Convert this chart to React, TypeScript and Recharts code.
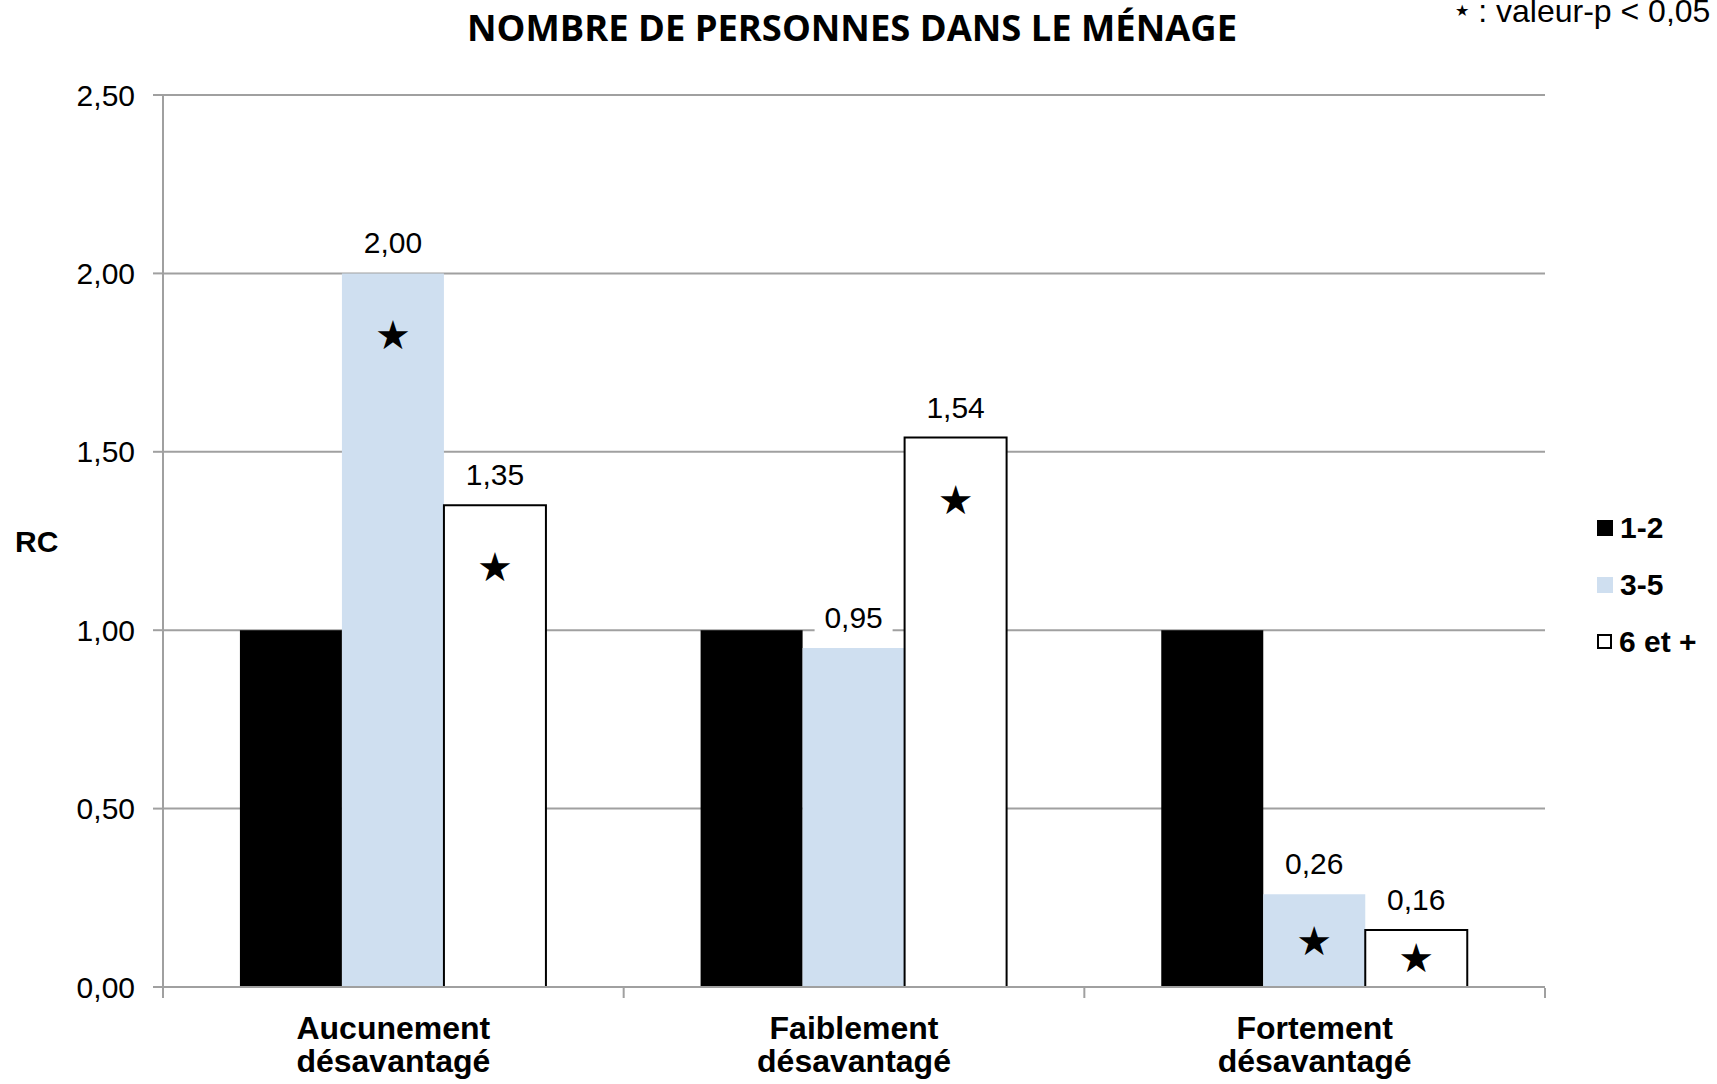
import { BarChart, Bar, XAxis, YAxis, CartesianGrid, Legend, LabelList } from 'recharts'

const categories = ['Aucunement désavantagé', 'Faiblement désavantagé', 'Fortement désavantagé']
const seriesNames = ['1-2', '3-5', '6 et +']
const values12 = [1.0, 1.0, 1.0]
const values35 = [2.0, 0.95, 0.26]
const values6plus = [1.35, 1.54, 0.16]
// étoile = valeur-p < 0,05
const sig35 = [1, 0, 1]
const sig6plus = [1, 1, 1]
const yTicks = [0, 0.5, 1, 1.5, 2, 2.5]
const edgeTicks = [0, 1, 2, 3]

const data = categories.map((name, i) => ({
  name,
  idx: i + 0.5,
  a: values12[i],
  b: values35[i],
  c: values6plus[i],
  sb: sig35[i],
  sc: sig6plus[i],
}))

const FONT = '"Liberation Sans", Arial, sans-serif'
const GRID = '#A0A0A0'
const BLUE = '#CFDFF0'

const fmt = (v: number) => v.toFixed(2).replace('.', ',')

function ValueLabel(props: any) {
  const vb = props.viewBox ?? props
  const cx = vb.x + vb.width / 2
  const top = vb.y
  const w = 78
  return (
    <g>
      <rect x={cx - w / 2} y={top - 50} width={w} height={40} fill="#fff" />
      <text x={cx} y={top - 20} textAnchor="middle" fontSize={30} fontFamily={FONT} fill="#000">
        {fmt(Number(props.value))}
      </text>
    </g>
  )
}

function StarMark(props: any) {
  if (!Number(props.value)) return null
  const vb = props.viewBox ?? props
  const cy = vb.y + Math.min(62, vb.height / 2)
  return (
    <text
      x={vb.x + vb.width / 2}
      y={cy}
      textAnchor="middle"
      dominantBaseline="central"
      fontSize={40}
      fontFamily='"DejaVu Sans", sans-serif'
      fill="#000"
    >
      ★
    </text>
  )
}

function CategoryTick({ x, y, payload }: any) {
  const words = String(payload.value).split(' ')
  return (
    <text x={x} y={y} textAnchor="middle" fontSize={32} fontWeight="bold" fontFamily={FONT} fill="#000">
      {words.map((w, i) => (
        <tspan key={i} x={x} dy={i === 0 ? 52 : 33}>
          {w}
        </tspan>
      ))}
    </text>
  )
}

function LegendBox({ payload }: any) {
  return (
    <div style={{ fontFamily: FONT, fontWeight: 'bold', fontSize: 30 }}>
      {(payload ?? []).map((entry: any, i: number) => {
        const stroke = entry.payload?.stroke
        const bordered = stroke && stroke !== 'none'
        return (
          <div key={i} style={{ display: 'flex', alignItems: 'center', height: 57 }}>
            <span
              style={{
                display: 'inline-block',
                boxSizing: 'border-box',
                width: bordered ? 15 : 16,
                height: bordered ? 15 : 16,
                background: entry.payload?.fill ?? entry.color,
                border: bordered ? `2px solid ${stroke}` : 'none',
                marginRight: 7,
              }}
            />
            <span>{entry.value}</span>
          </div>
        )
      })}
    </div>
  )
}

export default function App() {
  return (
    <div style={{ position: 'absolute', left: 0, top: 0, width: 1717, height: 1084, background: '#fff' }}>
      <BarChart
        width={1717}
        height={1084}
        data={data}
        margin={{ top: 95, right: 172, bottom: 95, left: 0 }}
        barGap={0}
        barCategoryGap="16.7%"
      >
        <CartesianGrid xAxisId="cat" vertical={false} stroke={GRID} strokeWidth={2} />
        <XAxis
          xAxisId="cat"
          dataKey="name"
          height={1}
          axisLine={{ stroke: GRID, strokeWidth: 2 }}
          tickLine={false}
          tickSize={0}
          tickMargin={0}
          interval={0}
          tick={<CategoryTick />}
        />
        <XAxis
          xAxisId="edge"
          type="number"
          dataKey="idx"
          domain={[0, 3]}
          ticks={edgeTicks}
          height={1}
          axisLine={false}
          tickLine={{ stroke: GRID, strokeWidth: 2 }}
          tickSize={10}
          tickFormatter={() => ''}
          tick={{ fontSize: 1 }}
        />
        <YAxis
          domain={[0, 2.5]}
          ticks={yTicks}
          width={163}
          tickFormatter={fmt}
          axisLine={{ stroke: GRID, strokeWidth: 2 }}
          tickLine={{ stroke: GRID, strokeWidth: 2 }}
          tickSize={10}
          tickMargin={18}
          tick={{ fill: '#000', fontSize: 30, fontFamily: FONT }}
          label={{
            value: 'RC',
            position: 'insideLeft',
            offset: 15,
            fill: '#000',
            fontSize: 30,
            fontWeight: 'bold',
            fontFamily: FONT,
          }}
        />
        <Legend
          layout="vertical"
          align="center"
          verticalAlign="middle"
          wrapperStyle={{ left: 1597, top: 499, width: 120 }}
          content={<LegendBox />}
        />
        <Bar xAxisId="cat" dataKey="a" name={seriesNames[0]} fill="#000000" stroke="none" isAnimationActive={false} />
        <Bar xAxisId="cat" dataKey="b" name={seriesNames[1]} fill={BLUE} stroke="none" isAnimationActive={false}>
          <LabelList dataKey="b" content={<ValueLabel />} />
          <LabelList dataKey="sb" content={<StarMark />} />
        </Bar>
        <Bar xAxisId="cat" dataKey="c" name={seriesNames[2]} fill="#FFFFFF" stroke="#000000" strokeWidth={2} isAnimationActive={false}>
          <LabelList dataKey="c" content={<ValueLabel />} />
          <LabelList dataKey="sc" content={<StarMark />} />
        </Bar>
      </BarChart>
      <svg width={1717} height={1084} style={{ position: 'absolute', left: 0, top: 0, pointerEvents: 'none' }}>
        <text
          x={852}
          y={41}
          textAnchor="middle"
          fontSize={36}
          fontWeight="bold"
          fontFamily='"Open Sans", sans-serif'
          textLength={770}
          lengthAdjust="spacingAndGlyphs"
          fill="#000"
        >
          NOMBRE DE PERSONNES DANS LE MÉNAGE
        </text>
        <text x={1455} y={22} fontSize={32} fontFamily={FONT} fill="#000">
          <tspan fontSize={16} fontFamily='"DejaVu Sans", sans-serif' dy={-6}>★</tspan>
          <tspan dy={6}> : valeur-p &lt; 0,05</tspan>
        </text>
      </svg>
    </div>
  )
}
